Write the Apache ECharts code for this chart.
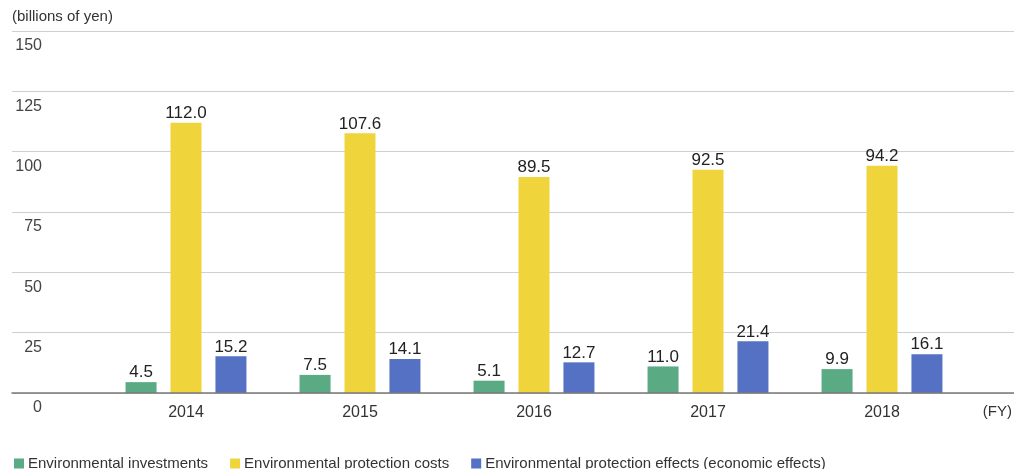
<!DOCTYPE html>
<html><head><meta charset="utf-8">
<script src="https://cdn.jsdelivr.net/npm/echarts@6/dist/echarts.min.js"></script>
<style>html,body{margin:0;padding:0;background:#fff}#c{width:1014px;height:469px}</style>
</head><body><div id="c"></div>
<script>
const categories = ['2014','2015','2016','2017','2018'];
const investments = [4.5, 7.5, 5.1, 11.0, 9.9];
const protectionCosts = [112.0, 107.6, 89.5, 92.5, 94.2];
const protectionEffects = [15.2, 14.1, 12.7, 21.4, 16.1];
const seriesNames = ['Environmental investments','Environmental protection costs','Environmental protection effects (economic effects)'];
const colors = ['#5aaa84','#f0d43c','#5471c3'];
const yUnit = '(billions of yen)';
const xUnit = '(FY)';

const FONT = "'Liberation Sans', Helvetica, Arial, sans-serif";
const chart = echarts.init(document.getElementById('c'));
const lbl = {show:true, position:'top', distance:1, color:'#222', fontSize:17, fontFamily:FONT, formatter: p => p.value.toFixed(1)};
const vals = [investments, protectionCosts, protectionEffects];
chart.setOption({
  animation:false,
  textStyle:{fontFamily:FONT},
  grid:[
    {left:12, right:0, top:31, bottom:76},
    {left:99, right:45, top:31, bottom:76}
  ],
  xAxis:[
    {gridIndex:0, type:'value', min:0, max:1, z:5,
     axisLine:{show:true, lineStyle:{color:'#7a7a7a', width:1.5}},
     axisTick:{show:false}, axisLabel:{show:false}, splitLine:{show:false}},
    {gridIndex:1, type:'category', data:categories,
     axisLine:{show:false}, axisTick:{show:false},
     axisLabel:{fontSize:16, color:'#333', margin:12, fontFamily:FONT}}
  ],
  yAxis:[
    {gridIndex:0, type:'value', min:0, max:150, interval:25,
     name:yUnit, nameLocation:'end', nameGap:7,
     nameTextStyle:{align:'left', fontSize:15, color:'#333', fontFamily:FONT},
     axisLine:{show:false}, axisTick:{show:false},
     axisLabel:{inside:true, align:'right', margin:30, verticalAlign:'top', padding:[7,0,0,0], fontSize:16, color:'#444', fontFamily:FONT},
     splitLine:{lineStyle:{color:'#cfcfcf', width:1}}},
    {gridIndex:1, type:'value', min:0, max:150, show:false}
  ],
  legend:{left:9, top:451, icon:'rect', itemWidth:10, itemHeight:10, itemGap:22,
    textStyle:{fontSize:15, color:'#333', fontFamily:FONT, padding:[0,0,0,-1]}, data:seriesNames},
  graphic:[{type:'text', right:2, top:404, style:{text:xUnit, fontSize:15, fill:'#333', font:"15px "+FONT}}],
  series: seriesNames.map((n,i)=>({
    name:n, type:'bar', xAxisIndex:1, yAxisIndex:1, data:vals[i],
    barWidth:31, barGap:'45%', itemStyle:{color:colors[i]}, label:lbl
  }))
});
</script></body></html>
